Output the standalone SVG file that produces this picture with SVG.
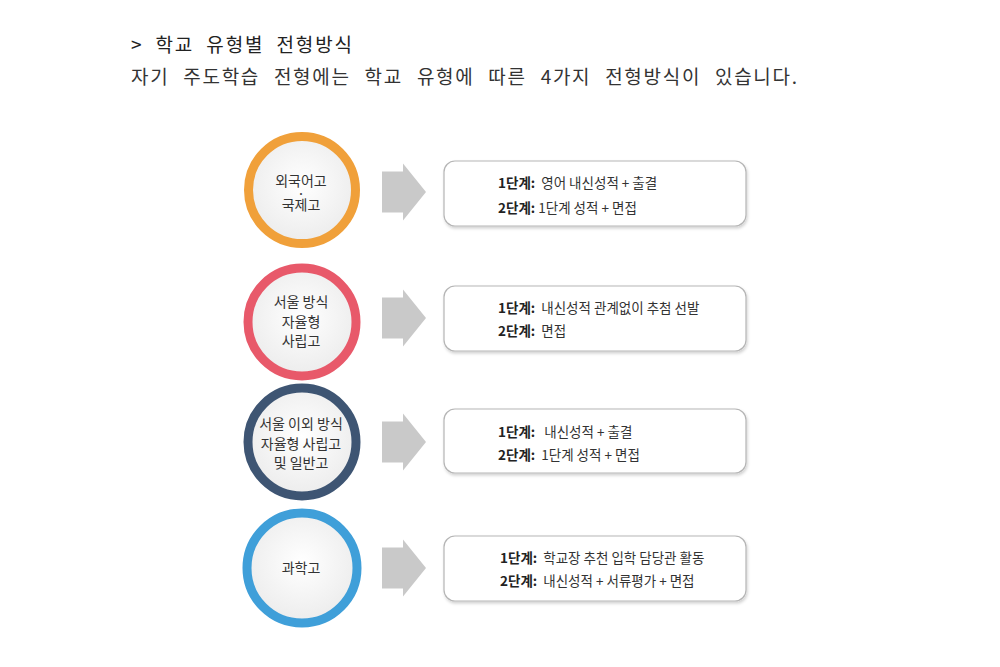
<svg xmlns="http://www.w3.org/2000/svg" width="1000" height="667" viewBox="0 0 1000 667">
<defs>
<radialGradient id="cfill" cx="50%" cy="45%" r="55%">
<stop offset="0" stop-color="#ffffff"/>
<stop offset="1" stop-color="#ececec"/>
</radialGradient>
<filter id="sh" x="-5%" y="-10%" width="110%" height="130%">
<feDropShadow dx="1" dy="2" stdDeviation="1.5" flood-color="#000" flood-opacity="0.18"/>
</filter>
<path id="arr" d="M0,-20.5 H21 V-28.5 L44,0 L21,28.5 V20.5 H0 Z"/>
</defs>
<style>
.hd{font-family:"Noto Sans CJK KR","Noto Sans",sans-serif;font-size:19px;fill:#222;word-spacing:6px}
.sub{font-family:"Noto Sans CJK KR","Noto Sans",sans-serif;font-size:19px;fill:#333;word-spacing:8px}
.ring{fill:url(#cfill);stroke-width:9}
.ct{font-family:"Noto Sans CJK KR","Noto Sans",sans-serif;font-size:14px;fill:#333;text-anchor:middle}
.dot{font-size:11px;font-weight:bold;fill:#444}
.box{fill:#fff;stroke:#b5b5b5;stroke-width:1.2;filter:url(#sh)}
.bt{font-family:"Noto Sans CJK KR","Noto Sans",sans-serif;font-size:13.5px;fill:#333}
.b{font-weight:bold;fill:#222}
.ar{fill:#c9c9c9}
</style>
<rect width="1000" height="667" fill="#fff"/>
<text class="hd" x="131" y="52" textLength="221" lengthAdjust="spacing">&gt; 학교 유형별 전형방식</text>
<text class="sub" x="131" y="84" textLength="666" lengthAdjust="spacing">자기 주도학습 전형에는 학교 유형에 따른 4가지 전형방식이 있습니다.</text>

<g id="connectors">
<use href="#arr" class="ar" x="382" y="192"/>
<use href="#arr" class="ar" x="382" y="318"/>
<use href="#arr" class="ar" x="382" y="442"/>
<use href="#arr" class="ar" x="382" y="568"/>
</g>

<g id="n1">
<circle class="ring" cx="302" cy="190" r="53.5" stroke="#f0a03a"/>
<text class="ct"><tspan x="301" y="186">외국어고</tspan><tspan class="dot" x="301" y="198">·</tspan><tspan x="301" y="210">국제고</tspan></text>
</g>
<g id="n2">
<circle class="ring" cx="302" cy="322" r="54" stroke="#e8596a"/>
<text class="ct"><tspan x="301" y="307">서울 방식</tspan><tspan x="301" y="327">자율형</tspan><tspan x="301" y="346">사립고</tspan></text>
</g>
<g id="n3">
<circle class="ring" cx="302" cy="442" r="54" stroke="#3e5573"/>
<text class="ct"><tspan x="301" y="429">서울 이외 방식</tspan><tspan x="301" y="449">자율형 사립고</tspan><tspan x="301" y="468">및 일반고</tspan></text>
</g>
<g id="n4">
<circle class="ring" cx="302" cy="568" r="55" stroke="#3f9fd9"/>
<text class="ct" x="301" y="573">과학고</text>
</g>

<g id="b1">
<rect class="box" x="444" y="161" width="302" height="65" rx="11"/>
<text class="bt" x="498" y="188" xml:space="preserve"><tspan class="b">1단계:</tspan>  영어 내신성적 + 출결</text>
<text class="bt" x="498" y="213" xml:space="preserve"><tspan class="b">2단계:</tspan> 1단계 성적 + 면접</text>
</g>
<g id="b2">
<rect class="box" x="444" y="286" width="302" height="65" rx="11"/>
<text class="bt" x="498" y="313" xml:space="preserve"><tspan class="b">1단계:</tspan>  내신성적 관계없이 추첨 선발</text>
<text class="bt" x="498" y="336" xml:space="preserve"><tspan class="b">2단계:</tspan>  면접</text>
</g>
<g id="b3">
<rect class="box" x="444" y="409" width="302" height="64" rx="11"/>
<text class="bt" x="498" y="437" xml:space="preserve"><tspan class="b">1단계:</tspan>   내신성적 + 출결</text>
<text class="bt" x="498" y="460" xml:space="preserve"><tspan class="b">2단계:</tspan>  1단계 성적 + 면접</text>
</g>
<g id="b4">
<rect class="box" x="444" y="536" width="302" height="65" rx="11"/>
<text class="bt" x="500" y="563" xml:space="preserve"><tspan class="b">1단계:</tspan>  학교장 추천 입학 담당관 활동</text>
<text class="bt" x="500" y="586" xml:space="preserve"><tspan class="b">2단계:</tspan>  내신성적 + 서류평가 + 면접</text>
</g>
</svg>
